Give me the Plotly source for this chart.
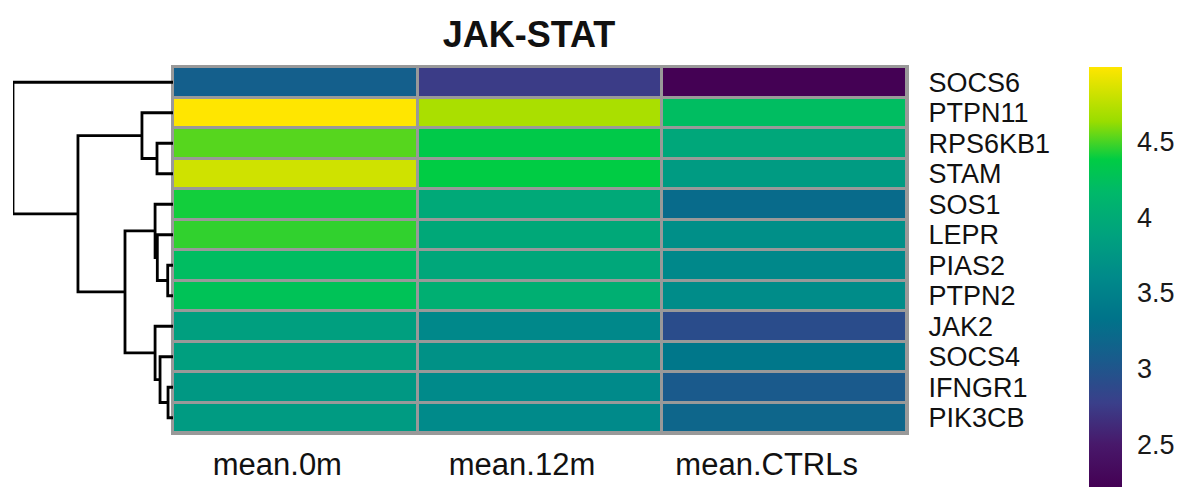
import plotly.graph_objects as go

# Expression means per gene (rows) and group (columns)
genes = ["SOCS6", "PTPN11", "RPS6KB1", "STAM", "SOS1", "LEPR",
         "PIAS2", "PTPN2", "JAK2", "SOCS4", "IFNGR1", "PIK3CB"]
groups = ["mean.0m", "mean.12m", "mean.CTRLs"]

mean_0m = [3.11, 4.99, 4.52, 4.82, 4.41, 4.46, 4.21, 4.27, 3.85, 3.85, 3.77, 3.80]
mean_12m = [2.75, 4.69, 4.35, 4.38, 3.97, 3.96, 3.94, 4.05, 3.58, 3.69, 3.61, 3.60]
mean_ctrls = [2.22, 4.21, 3.94, 3.80, 3.24, 3.66, 3.58, 3.63, 2.91, 3.38, 3.05, 3.18]

colorbar_ticks = [2.5, 3, 3.5, 4, 4.5]

# Row clustering: each merge joins two children (leaf index or merge id) at a height
merges = {
    "ifn_pik": (10, 11, 0.31),
    "socs4": (9, "ifn_pik", 0.81),
    "jak2": (8, "socs4", 1.12),
    "pias_ptpn2": (6, 7, 0.33),
    "lepr": (5, "pias_ptpn2", 0.98),
    "sos1": (4, "lepr", 1.12),
    "lower": ("sos1", "jak2", 3.00),
    "rps_stam": (2, 3, 1.00),
    "upper": (1, "rps_stam", 1.94),
    "main": ("upper", "lower", 5.94),
    "root": (0, "main", 10.0),
}

z = [[a, b, c] for a, b, c in zip(mean_0m, mean_12m, mean_ctrls)]
zmin = min(min(r) for r in z)
zmax = max(max(r) for r in z)

# viridis-like palette with vivid greens
colorscale = [
    [0.00, "#440154"], [0.10, "#48186a"], [0.20, "#3a3f8a"],
    [0.30, "#1a5a8c"], [0.40, "#00738a"], [0.50, "#008a8a"],
    [0.60, "#00a27e"], [0.70, "#00b86a"], [0.78, "#00cc44"],
    [0.87, "#99dd00"], [1.00, "#ffe600"],
]

W, H = 1177, 489
hm_left, hm_right, hm_top, hm_bottom = 173, 907, 67, 433
dend_left = 13
border = "#999999"


def node_pos(key):
    """Return (y, height) of a node and collect its elbow segments."""
    if isinstance(key, int):
        return float(key), 0.0
    left, right, h = merges[key]
    yl, hl = node_pos(left)
    yr, hr = node_pos(right)
    seg_x.extend([hl, h, h, hr, None])
    seg_y.extend([yl, yl, yr, yr, None])
    return (yl + yr) / 2.0, h


seg_x, seg_y = [], []
node_pos("root")
root_height = merges["root"][2]

fig = go.Figure()

fig.add_trace(go.Heatmap(
    z=z,
    x=list(range(len(groups))),
    y=list(range(len(genes))),
    zmin=zmin, zmax=zmax,
    colorscale=colorscale,
    xgap=3, ygap=3,
    hoverinfo="skip",
    colorbar=dict(
        x=1089 / W, xanchor="left", xpad=0,
        y=1 - hm_top / H, yanchor="top", ypad=0,
        thickness=33,
        lenmode="pixels", len=420,
        outlinewidth=0,
        tickvals=colorbar_ticks,
        ticktext=[f"{t:g}" for t in colorbar_ticks],
        ticks="outside", ticklen=10, tickcolor="rgba(0,0,0,0)",
        tickfont=dict(family="Liberation Sans, Arial", size=27, color="#1a1a1a"),
    ),
))

fig.add_trace(go.Scatter(
    x=seg_x, y=seg_y,
    xaxis="x2", yaxis="y",
    mode="lines",
    line=dict(color="black", width=2.8),
    hoverinfo="skip",
    showlegend=False,
))

# grey backing behind the cells so the gaps read as cell borders
fig.add_shape(
    type="rect", xref="x domain", yref="y domain",
    x0=0, x1=1, y0=0, y1=1,
    fillcolor=border, line=dict(width=0), layer="below",
)

fig.update_layout(
    width=W, height=H,
    margin=dict(l=0, r=0, t=0, b=0),
    paper_bgcolor="white",
    plot_bgcolor="white",
    title=dict(
        text="<b>JAK-STAT</b>",
        x=529 / W, xanchor="center",
        y=1 - 34 / H, yanchor="middle",
        font=dict(family="Liberation Sans, Arial", size=36, color="#111111"),
    ),
    xaxis=dict(
        domain=[hm_left / W, hm_right / W],
        range=[-0.5, len(groups) - 0.5],
        tickvals=list(range(len(groups))),
        ticktext=groups,
        ticks="", showgrid=False, zeroline=False,
        showline=True, linecolor=border, linewidth=2, mirror=True,
        ticklabelshift=-18, ticklabelstandoff=3,
        tickfont=dict(family="Liberation Sans, Arial", size=31, color="#111111"),
    ),
    yaxis=dict(
        domain=[1 - hm_bottom / H, 1 - hm_top / H],
        range=[len(genes) - 0.5, -0.5],
        tickvals=list(range(len(genes))),
        ticktext=genes,
        side="right",
        ticks="", showgrid=False, zeroline=False,
        showline=True, linecolor=border, linewidth=2, mirror=True,
        ticklabelstandoff=14,
        tickfont=dict(family="Liberation Sans, Arial", size=27, color="#111111"),
    ),
    xaxis2=dict(
        domain=[dend_left / W, hm_left / W],
        range=[root_height, 0],
        anchor="y",
        visible=False,
        showgrid=False, zeroline=False,
    ),
)

fig.write_html("out.html")
